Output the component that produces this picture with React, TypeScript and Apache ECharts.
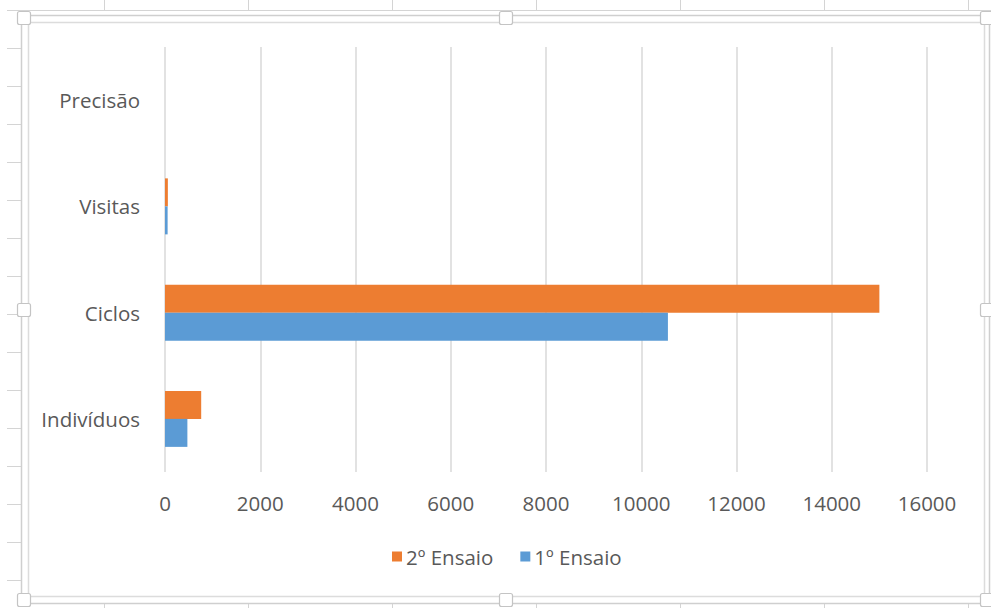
import React, { useEffect, useRef } from "react";
import * as echarts from "echarts";

const categories = ["Indivíduos", "Ciclos", "Visitas", "Precisão"];
const ensaio2 = [760, 15000, 60, 0];
const ensaio1 = [470, 10560, 55, 0];
const xTicks = [0, 2000, 4000, 6000, 8000, 10000, 12000, 14000, 16000];
const seriesNames = ["2º Ensaio", "1º Ensaio"];

const W = 991;
const H = 608;
const LINE = "#d4d4d4";

function sheetGraphics() {
  const els: any[] = [];
  els.push({ type: "line", shape: { x1: 7, y1: 10.5, x2: W, y2: 10.5 }, style: { stroke: LINE, lineWidth: 1 }, silent: true });
  const cols = [104, 248, 392, 536, 680, 824, 968];
  cols.forEach((c) => {
    els.push({ type: "line", shape: { x1: c + 0.5, y1: 0, x2: c + 0.5, y2: 10 }, style: { stroke: LINE, lineWidth: 1 }, silent: true });
    els.push({ type: "line", shape: { x1: c + 0.5, y1: 603, x2: c + 0.5, y2: H }, style: { stroke: LINE, lineWidth: 1 }, silent: true });
  });
  for (let k = 0; k < 15; k++) {
    const y = 48 + 38 * k + 0.5;
    els.push({ type: "line", shape: { x1: 7, y1: y, x2: 21, y2: y }, style: { stroke: LINE, lineWidth: 1 }, silent: true });
  }
  els.push({ type: "rect", shape: { x: 21.5, y: 15.5, width: 968, height: 588 }, style: { fill: "none", stroke: "#cfcfcf", lineWidth: 1.5 }, silent: true });
  els.push({ type: "rect", shape: { x: 28.5, y: 22.5, width: 956, height: 574 }, style: { fill: "none", stroke: "#dcdcdc", lineWidth: 1.5 }, silent: true });
  const handles = [
    [24, 18], [24, 310], [24, 600],
    [506, 18], [506, 600],
    [987, 18], [987, 310], [987, 600],
  ];
  handles.forEach(([x, y]) => {
    els.push({ type: "rect", shape: { x: x - 6.5, y: y - 6.5, width: 13, height: 13, r: 2 }, style: { fill: "#ffffff", stroke: "#c4c4c4", lineWidth: 1.2 }, silent: true });
  });
  return els;
}

export default function App() {
  const ref = useRef<HTMLDivElement>(null);
  useEffect(() => {
    if (!ref.current) return;
    const chart = echarts.init(ref.current, null, { renderer: "svg" });
    const font = "'Open Sans', 'Noto Sans', sans-serif";
    const fs = 20.5;
    chart.setOption({
      animation: false,
      backgroundColor: "#ffffff",
      textStyle: { fontFamily: font },
      graphic: sheetGraphics(),
      grid: { left: 165, top: 47, right: W - 927, bottom: H - 472, containLabel: false },
      legend: {
        data: seriesNames,
        left: 387,
        top: 541,
        icon: "rect",
        itemWidth: 10,
        itemHeight: 10,
        itemGap: 27,
        textStyle: { color: "#595959", fontSize: fs, fontFamily: font, padding: [0, 0, 0, -1] },
      },
      xAxis: {
        type: "value",
        min: xTicks[0],
        max: xTicks[xTicks.length - 1],
        interval: xTicks[1] - xTicks[0],
        axisLine: { show: false },
        axisTick: { show: false },
        axisLabel: { color: "#595959", fontSize: fs, margin: 20, fontFamily: font, formatter: (v: number) => String(v) },
        splitLine: { show: true, lineStyle: { color: "#d9d9d9", width: 1.5 } },
      },
      yAxis: {
        type: "category",
        data: categories,
        axisLine: { show: false },
        axisTick: { show: false },
        axisLabel: { color: "#595959", fontSize: fs, margin: 25, fontFamily: font },
        splitLine: { show: false },
      },
      series: [
        {
          name: seriesNames[0],
          type: "bar",
          data: ensaio2,
          barWidth: 28,
          barGap: "0%",
          itemStyle: { color: "#ED7D31" },
        },
        {
          name: seriesNames[1],
          type: "bar",
          data: ensaio1,
          barWidth: 28,
          barGap: "0%",
          itemStyle: { color: "#5B9BD5" },
        },
      ],
    });
    return () => chart.dispose();
  }, []);
  return (
    <div style={{ position: "fixed", left: 0, top: 0, width: W, height: H, background: "#fff" }}>
      <div ref={ref} style={{ width: W, height: H }} />
    </div>
  );
}
